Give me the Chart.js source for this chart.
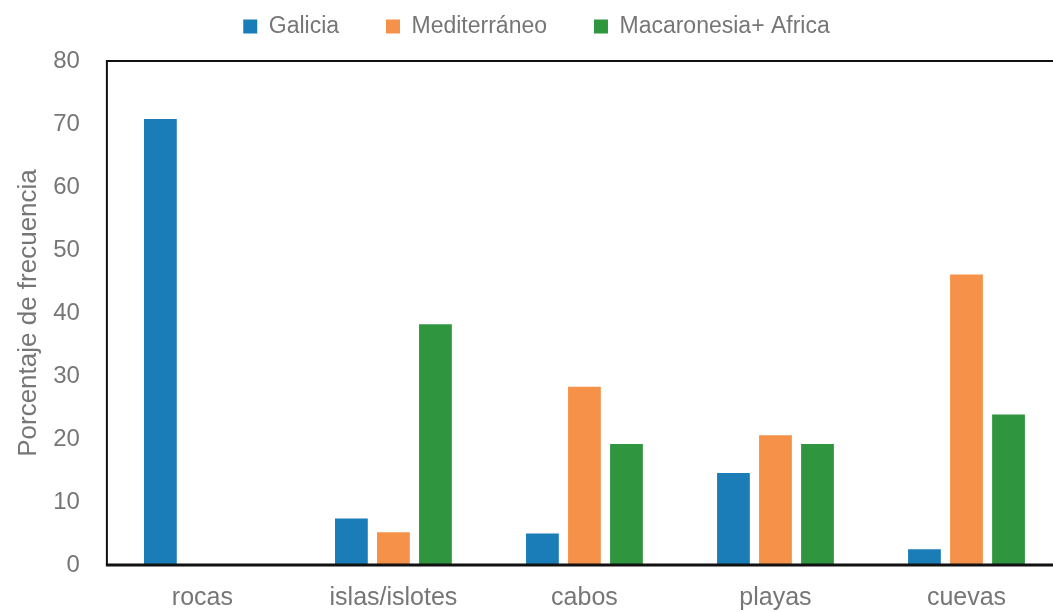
<!DOCTYPE html>
<html lang="es">
<head>
    <meta charset="UTF-8">
    <title>Porcentaje de frecuencia</title>
    <script src="https://cdn.jsdelivr.net/npm/chart.js"></script>
    <style>
        html, body { margin: 0; padding: 0; background: #fff; overflow: hidden; }
        .chart-container { width: 1062px; height: 612px; }
    </style>
</head>
<body>
    <div class="chart-container">
        <canvas id="freqChart"></canvas>
    </div>
    <script>
        const categories = ['rocas', 'islas/islotes', 'cabos', 'playas', 'cuevas'];
        const galicia = [70.8, 7.4, 5.0, 14.6, 2.5];
        const mediterraneo = [0, 5.2, 28.3, 20.6, 46.1];
        const macaronesia = [0, 38.2, 19.2, 19.2, 23.9];
        const yTicks = [0, 10, 20, 30, 40, 50, 60, 70, 80];

        const textGray = '#767676';
        const font = "'Liberation Sans', Arial, sans-serif";

        // marco del area de trazado (arriba, izquierda, abajo)
        const frame = {
            id: 'frame',
            afterDraw(chart) {
                const a = chart.chartArea;
                const ctx = chart.ctx;
                ctx.save();
                ctx.strokeStyle = '#111';
                ctx.lineWidth = 2;
                ctx.beginPath();
                ctx.moveTo(a.right + 5, a.top);
                ctx.lineTo(a.left, a.top);
                ctx.lineTo(a.left, a.bottom);
                ctx.stroke();
                ctx.lineWidth = 3;
                ctx.beginPath();
                ctx.moveTo(a.left - 1, a.bottom);
                ctx.lineTo(a.right + 5, a.bottom);
                ctx.stroke();
                ctx.restore();
            }
        };

        const ctx = document.getElementById('freqChart').getContext('2d');
        new Chart(ctx, {
            type: 'bar',
            data: {
                labels: categories,
                datasets: [
                    { label: 'Galicia', data: galicia, backgroundColor: '#1b7db8' },
                    { label: 'Mediterráneo', data: mediterraneo, backgroundColor: '#f59149' },
                    { label: 'Macaronesia+ Africa', data: macaronesia, backgroundColor: '#2f953f' }
                ]
            },
            options: {
                responsive: true,
                maintainAspectRatio: false,
                animation: false,
                categoryPercentage: 0.66,
                barPercentage: 0.78,
                layout: { padding: { top: 0, left: 11, right: 0, bottom: -19 } },
                plugins: {
                    tooltip: { enabled: false },
                    legend: {
                        position: 'top',
                        labels: {
                            color: textGray,
                            font: { family: font, size: 23 },
                            boxWidth: 14,
                            boxHeight: 14,
                            padding: 15,
                            // separacion extra entre elementos de la leyenda
                            generateLabels(chart) {
                                const items = Chart.defaults.plugins.legend.labels.generateLabels(chart);
                                items.forEach((it, i) => {
                                    if (i < items.length - 1) it.text += '     ';
                                });
                                return items;
                            }
                        }
                    }
                },
                scales: {
                    x: {
                        grid: { display: false, drawTicks: false },
                        border: { display: false },
                        ticks: {
                            color: textGray,
                            font: { family: font, size: 25 },
                            padding: 18
                        }
                    },
                    // eje vacio arriba: solo deja aire entre la leyenda y el marco
                    xTop: {
                        position: 'top',
                        grid: { display: false, drawTicks: false },
                        border: { display: false },
                        ticks: { display: false },
                        afterFit(scale) { scale.height = 13; }
                    },
                    y: {
                        min: 0,
                        max: 80,
                        afterBuildTicks(axis) {
                            axis.ticks = yTicks.map(v => ({ value: v }));
                        },
                        grid: { display: false, drawTicks: false },
                        border: { display: false },
                        ticks: {
                            color: textGray,
                            font: { family: font, size: 24 },
                            padding: 27
                        },
                        title: {
                            display: true,
                            text: 'Porcentaje de frecuencia',
                            color: textGray,
                            font: { family: font, size: 26 },
                            padding: { top: 2, bottom: -18 }
                        }
                    }
                }
            },
            plugins: [frame]
        });
    </script>
</body>
</html>
